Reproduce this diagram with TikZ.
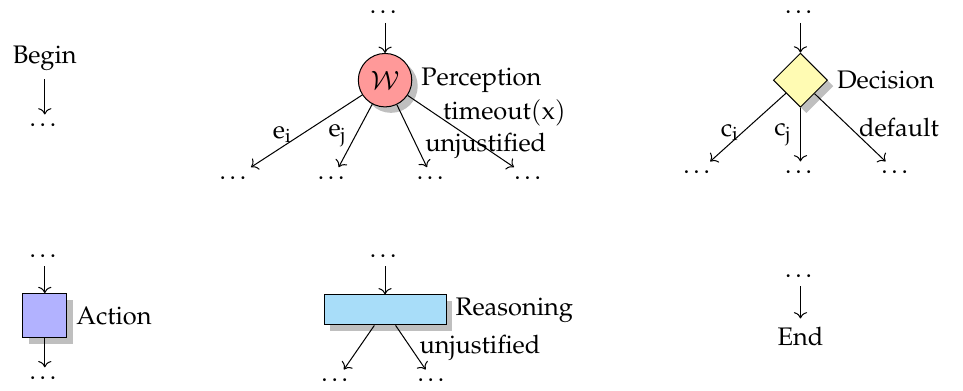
\documentclass[tikz,border=0pt]{standalone}
\usepackage[T1]{fontenc}
\usepackage{mathpazo}
\usetikzlibrary{shapes,arrows.meta,positioning,shadows}

\definecolor{reasonblue}{RGB}{168,221,249}

\begin{document}
\begin{tikzpicture}[
    flow/.style={->},
    percept/.style={
        circle, draw, fill=red!40, minimum size=0.74cm, inner sep=0pt, drop shadow
    },
    decide/.style={
        diamond, draw, fill=yellow!30, minimum width=0.75cm, minimum height=0.75cm,
        inner sep=0pt, drop shadow
    },
    act/.style={
        rectangle, draw, fill=blue!30, minimum size=0.61cm, inner sep=0pt, drop shadow
    },
    reason/.style={
        rectangle, draw, fill=reasonblue, minimum width=1.69cm, minimum height=0.415cm,
        inner sep=0pt, drop shadow
    }
]

\useasboundingbox (0, 0) rectangle (13.33, -5.40);

% Begin
\node (begin) at (0.62, -0.80) {Begin};
\node (bgdots) at (0.62, -1.73) {\dots};
\draw[flow] (begin) -- (bgdots);

% Perception
\node (pin) at (5.33, -0.17) {\dots};
\node[percept] (perc) at (5.33, -1.11) {$\mathcal{W}$};
\node[right=0pt of perc] (perclbl) {Perception};
\node (pd1) at (3.25, -2.46) {\dots};
\node (pd2) at (4.61, -2.46) {\dots};
\node (pd3) at (5.98, -2.46) {\dots};
\node (pd4) at (7.33, -2.46) {\dots};
\draw[flow] (pin) -- (perc);
\draw[flow] (perc) -- node[left, pos=0.55] {$\mathrm{e}_\mathrm{i}$} (pd1);
\draw[flow] (perc) -- node[left] {$\mathrm{e}_\mathrm{j}$} (pd2);
\draw[flow] (perc) -- node[right, pos=0.65] {$\mathrm{unjustified}$} (pd3);
\draw[flow] (perc) -- node[right, pos=0.25] {$\mathrm{timeout}(\mathrm{x})$} (pd4);

% Decision
\node (din) at (11.08, -0.17) {\dots};
\node[decide] (dec) at (11.08, -1.11) {};
\node[right=0pt of dec] (declbl) {Decision};
\node (dd1) at (9.67, -2.38) {\dots};
\node (dd2) at (11.08, -2.38) {\dots};
\node (dd3) at (12.41, -2.38) {\dots};
\draw[flow] (din) -- (dec);
\draw[flow] (dec) -- node[left, yshift=-2pt] {$\mathrm{c}_\mathrm{i}$} (dd1);
\draw[flow] (dec) -- node[left] {$\mathrm{c}_\mathrm{j}$} (dd2);
\draw[flow] (dec) -- node[right] {$\mathrm{default}$} (dd3);

% Action
\node (ain) at (0.62, -3.54) {\dots};
\node[act] (act) at (0.62, -4.37) {};
\node[right=0pt of act] (actlbl) {Action};
\node (aout) at (0.62, -5.23) {\dots};
\draw[flow] (ain) -- (act);
\draw[flow] (act) -- (aout);

% Reasoning
\node (rin) at (5.33, -3.54) {\dots};
\node[reason] (rsn) at (5.33, -4.29) {};
\node[right=0pt of rsn] (rsnlbl) {Reasoning};
\node (rd1) at (4.66, -5.26) {\dots};
\node (rd2) at (5.99, -5.26) {\dots};
\draw[flow] (rin) -- (rsn);
\draw[flow] (rsn) -- (rd1);
\draw[flow] (rsn) -- node[right] {$\mathrm{unjustified}$} (rd2);

% End
\node (edots) at (11.08, -3.82) {\dots};
\node (end) at (11.08, -4.66) {End};
\draw[flow] (edots) -- (end);

\end{tikzpicture}
\end{document}
